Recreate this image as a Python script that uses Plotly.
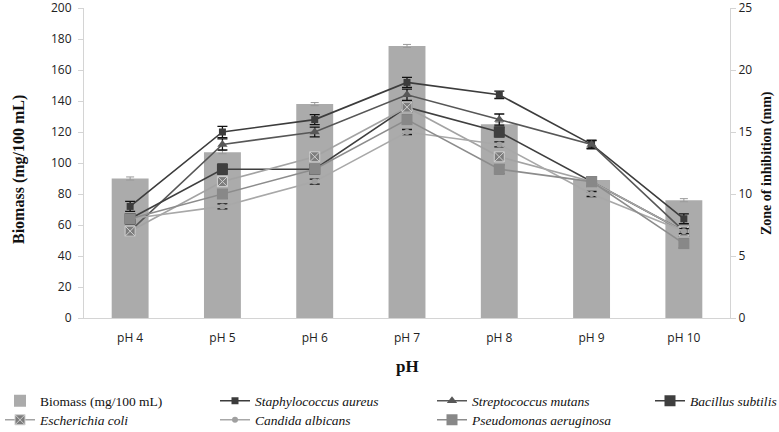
import plotly.graph_objects as go

categories = ["pH 4", "pH 5", "pH 6", "pH 7", "pH 8", "pH 9", "pH 10"]
biomass = [90, 107, 138, 175.5, 125, 89, 76]
biomass_err = [1, 1, 1, 1, 1, 1, 1]

staph = [9, 15, 16, 19, 18, 14, 8]
strep = [7, 14, 15, 18, 16, 14, 7]
bacillus = [8, 12, 12, 17, 15, 11, 7]
ecoli = [7, 11, 13, 17, 13, 11, 7]
candida = [8, 9, 11, 15, 14, 10, 7]
pseudo = [8, 10, 12, 16, 12, 11, 6]

staph_err = [0.4, 0.45, 0.4, 0.4, 0.3, 0.35, 0.4]
strep_err = [0.35, 0.45, 0.4, 0.45, 0.45, 0.3, 0.3]
bacillus_err = [0.4, 0.4, 0.35, 0.35, 0.4, 0.3, 0.3]
ecoli_err = [0.2, 0.2, 0.2, 0.2, 0.2, 0.2, 0.2]
candida_err = [0.2, 0.2, 0.2, 0.2, 0.2, 0.2, 0.2]
pseudo_err = [0.35, 0.35, 0.35, 0.35, 0.35, 0.35, 0.35]

serif = "Liberation Serif"
sans = "Open Sans"

W, H = 779, 432
ML, MR, MT, MB = 84, 49, 8, 114
PW, PH = W - ML - MR, H - MT - MB


def px_to_paper_x(px):
    return (px - ML) / PW


def py_to_paper_y(py):
    return (H - MB - py) / PH


fig = go.Figure()
fig.add_trace(go.Bar(
    x=categories, y=biomass, name="Biomass (mg/100 mL)",
    marker=dict(color="#ababab", line=dict(width=0)), width=0.4,
    error_y=dict(type="data", array=biomass_err, color="#9a9a9a", thickness=1, width=4),
    legend="legend",
))

series = [
    ("Staphylococcus aureus", staph, staph_err, "#3c3c3c", "square", 7, "#3c3c3c", "legend2"),
    ("Streptococcus mutans", strep, strep_err, "#575757", "triangle-up", 9, "#575757", "legend3"),
    ("Bacillus subtilis", bacillus, bacillus_err, "#3f3f3f", "square", 11, "#3f3f3f", "legend4"),
    ("Escherichia coli", ecoli, ecoli_err, "#a3a3a3", "square-x", 10, "#7d7d7d", "legend5"),
    ("Candida albicans", candida, candida_err, "#a8a8a8", "circle", 6, "#a0a0a0", "legend6"),
    ("Pseudomonas aeruginosa", pseudo, pseudo_err, "#8c8c8c", "square", 11, "#888888", "legend7"),
]
for name, vals, err, lc, sym, size, mc, lg in series:
    mline = dict(color="#d0d0d0", width=1) if sym == "square-x" else dict(width=0)
    fig.add_trace(go.Scatter(
        x=categories, y=vals, name="<i>" + name + "</i>", yaxis="y2",
        mode="lines+markers",
        line=dict(color=lc, width=1.6),
        marker=dict(symbol=sym, size=size, color=mc, line=mline),
        error_y=dict(type="data", array=err, color="#111111", thickness=1.3, width=5),
        legend=lg,
    ))

row1 = 1 - 401 / H
row2 = 1 - 420 / H
legpos = {
    "legend": (0.0, row1),
    "legend2": (215 / W, row1),
    "legend3": (432 / W, row1),
    "legend4": (650 / W, row1),
    "legend5": (0.0, row2),
    "legend6": (215 / W, row2),
    "legend7": (432 / W, row2),
}
for key, (lx, ly) in legpos.items():
    fig.update_layout(**{key: dict(
        x=lx, y=ly, xref="container", yref="container",
        xanchor="left", yanchor="middle", orientation="h",
        font=dict(family=serif, size=13.5, color="#111111"),
        bgcolor="rgba(0,0,0,0)", borderwidth=0, itemwidth=30,
        tracegroupgap=0, itemclick=False,
    )})

axis_common = dict(
    showgrid=False, zeroline=False, showline=True, linecolor="#d4d4d4", linewidth=1,
    ticks="outside", tickcolor="#d4d4d4", ticklen=5, automargin=False,
    ticklabeloverflow="allow",
    tickfont=dict(family=sans, size=12, color="#222222"),
)

fig.update_layout(
    width=W, height=H,
    margin=dict(l=ML, r=MR, t=MT, b=MB),
    paper_bgcolor="white", plot_bgcolor="white",
    showlegend=True,
    bargap=0.6,
    xaxis=dict(
        **{k: v for k, v in axis_common.items() if k not in ("ticks",)},
        ticks="", ticklabelstandoff=9,
    ),
    yaxis=dict(
        **axis_common, range=[0, 200], tickvals=list(range(0, 201, 20)), ticklabelstandoff=4,
    ),
    yaxis2=dict(
        **axis_common, range=[0, 25], tickvals=list(range(0, 26, 5)), overlaying="y", side="right",
    ),
    annotations=[
        dict(text="<b>pH</b>", xref="paper", yref="paper", x=0.5, y=py_to_paper_y(366),
             showarrow=False, xanchor="center", yanchor="middle",
             font=dict(family=serif, size=17, color="#111111")),
        dict(text="<b>Biomass (mg/100 mL)</b>", xref="paper", yref="paper",
             x=px_to_paper_x(19), y=py_to_paper_y(170),
             showarrow=False, textangle=-90, xanchor="center", yanchor="middle",
             font=dict(family=serif, size=16, color="#111111")),
        dict(text="<b>Zone of inhibition (mm)</b>", xref="paper", yref="paper",
             x=px_to_paper_x(767), y=py_to_paper_y(163),
             showarrow=False, textangle=-90, xanchor="center", yanchor="middle",
             font=dict(family=serif, size=14, color="#111111")),
    ],
)

fig.write_html("out.html", config={"displayModeBar": False},
               post_script="document.body.style.margin='0';document.body.style.overflow='hidden';")
